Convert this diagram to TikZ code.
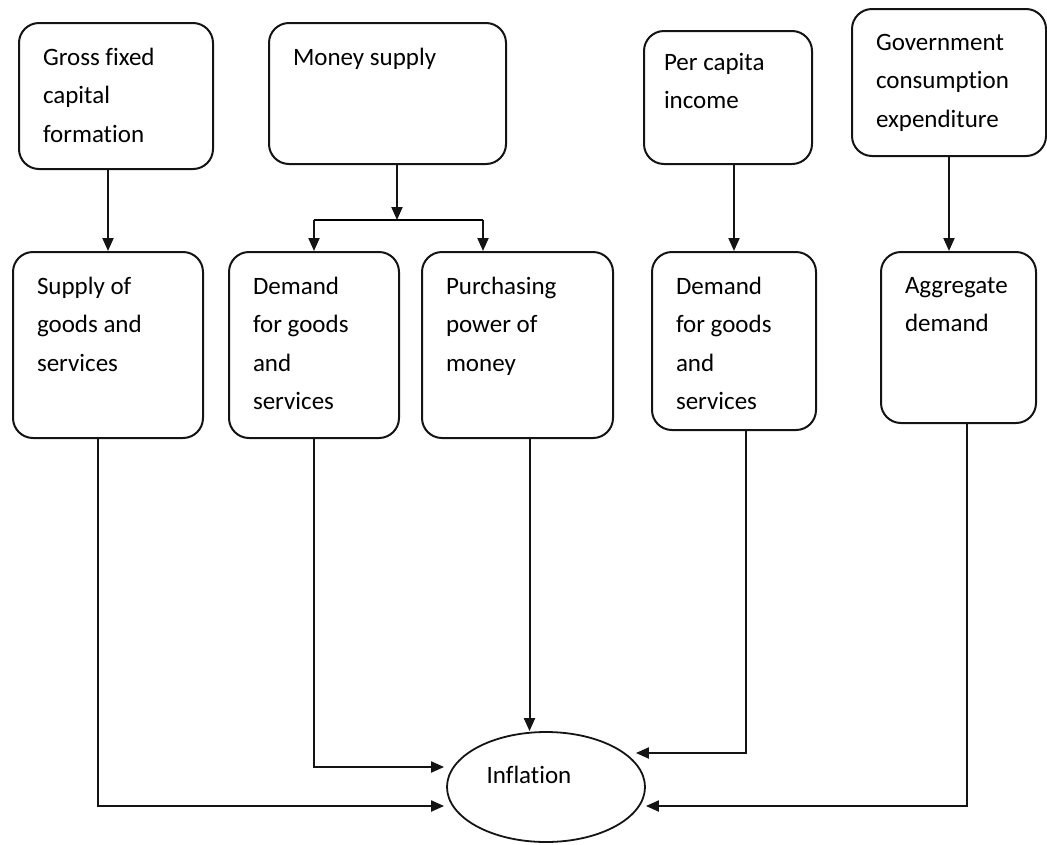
\documentclass[tikz,border=0pt]{standalone}
\usepackage{fontspec}
\setmainfont{Carlito}[Ligatures=NoCommon]
\usetikzlibrary{arrows.meta, positioning, shapes.geometric, calc}
\definecolor{cline}{HTML}{141414}
\tikzset{
  every picture/.style={line width=2pt},
  blk/.style={draw=cline, rounded corners=20pt, anchor=north west, inner sep=0pt},
  txt/.style={anchor=north west, align=left, inner xsep=24pt, inner ysep=25pt, font=\fontsize{25}{38.5}\selectfont},
  oval/.style={draw=cline, ellipse, inner sep=0pt, line width=1.8pt},
  arrow/.style={-{Triangle[length=13pt, width=11pt]}, draw=cline, line width=2pt},
}

\begin{document}
\begin{tikzpicture}[x=1pt, y=-1pt]
  \useasboundingbox (0,0) rectangle (1047,844);
  \node[blk, minimum width=194pt, minimum height=146pt, label={[txt]north west:Gross fixed\\capital\\formation}] (gfcf) at (18,22) {};
  \node[blk, minimum width=237pt, minimum height=141pt, label={[txt]north west:Money supply}] (money) at (268,22) {};
  \node[blk, minimum width=168pt, minimum height=133pt, label={[txt, xshift=-4pt, yshift=3pt]north west:Per capita\\income}] (pci) at (643,30) {};
  \node[blk, minimum width=194pt, minimum height=147pt, label={[txt]north west:Government\\consumption\\expenditure}] (gce) at (851,8) {};
  \node[blk, minimum width=190pt, minimum height=186pt, label={[txt]north west:Supply of\\goods and\\services}] (supply) at (12,251) {};
  \node[blk, minimum width=170pt, minimum height=186pt, label={[txt]north west:Demand\\for goods\\and\\services}] (dem1) at (228,251) {};
  \node[blk, minimum width=191pt, minimum height=186pt, label={[txt]north west:Purchasing\\power of\\money}] (ppm) at (421,251) {};
  \node[blk, minimum width=164pt, minimum height=178pt, label={[txt]north west:Demand\\for goods\\and\\services}] (dem2) at (651,251) {};
  \node[blk, minimum width=155pt, minimum height=171pt, label={[txt]north west:Aggregate\\demand}] (agg) at (880,251) {};
  \node[oval, minimum width=198pt, minimum height=110pt, label={[font=\fontsize{25}{30}\selectfont, xshift=-17pt, yshift=12pt]center:Inflation}] (infl) at (546,787) {};

  \coordinate (jM) at (397,220);
  \coordinate (jL) at (jM -| dem1.north);
  \coordinate (jR) at (483,220);

  \draw[arrow] (supply.north |- gfcf.south) -- (supply.north);
  \draw[arrow] (jM |- money.south) -- (jM);
  \draw (jL) -- (jR);
  \draw[arrow] (jL) -- (jL |- dem1.north);
  \draw[arrow] (jR) -- (jR |- ppm.north);
  \draw[arrow] (dem2.north |- pci.south) -- (dem2.north);
  \draw[arrow] (gce.south) -- (gce.south |- agg.north);

  \draw[arrow] ([xshift=-10pt]supply.south) |- ([xshift=-2pt, yshift=-19pt]infl.west);
  \draw[arrow] (dem1.south) |- ([xshift=-2pt, yshift=20pt]infl.west);
  \draw[arrow] ([xshift=12pt]ppm.south) -- ([xshift=12pt]ppm.south |- infl.north);
  \draw[arrow] ([xshift=12pt]dem2.south) |- ([xshift=-10pt, yshift=34pt]infl.east);
  \draw[arrow] ([xshift=8pt]agg.south) |- ([yshift=-19pt]infl.east);
\end{tikzpicture}
\end{document}
